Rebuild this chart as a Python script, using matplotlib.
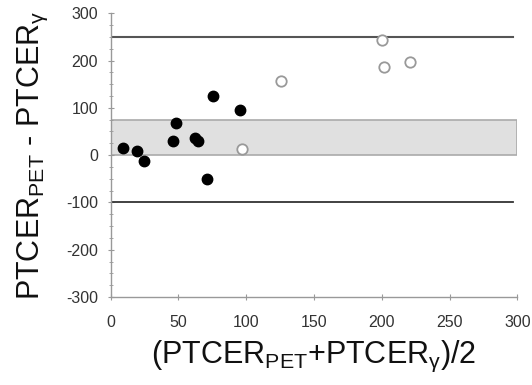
import numpy as np
import matplotlib.pyplot as plt
from matplotlib.ticker import MultipleLocator
from matplotlib.patches import Rectangle

# Bland-Altman style data
mean_filled = [9.0, 19.3, 24.3, 45.9, 48.4, 62.4, 64.7, 71.4, 75.7, 95.5]
diff_filled = [16, 8, -13, 30, 68, 36, 29, -50, 126, 96]
mean_open = [96.5, 126, 200.5, 201.8, 220.8]
diff_open = [13, 156, 244, 187, 196]

band_low, band_high = 0, 75
limit_upper, limit_lower = 250, -100

plt.rcParams['font.family'] = ['Liberation Sans', 'DejaVu Sans']
plt.rcParams['mathtext.fontset'] = 'custom'
plt.rcParams['mathtext.rm'] = 'Liberation Sans'
plt.rcParams['mathtext.it'] = 'Liberation Sans'
plt.rcParams['axes.unicode_minus'] = False

fig = plt.figure(figsize=(5.32, 3.85), dpi=100)
ax = fig.add_axes([0.2081, 0.2286, 0.7643, 0.7369])

ax.add_patch(Rectangle((0, band_low), 300, band_high - band_low,
                       facecolor='#e0e0e0', edgecolor='#aaaaaa', lw=1.2, zorder=1))
ax.plot([0, 297], [limit_upper, limit_upper], color='#555555', lw=1.5, zorder=2)
ax.plot([0, 297], [limit_lower, limit_lower], color='#333333', lw=1.3, zorder=2)

ax.plot(mean_filled, diff_filled, 'o', color='black', ms=7.5, zorder=3)
ax.plot(mean_open, diff_open, 'o', mfc='white', mec='#999999', mew=1.3, ms=7.5, zorder=3)

ax.set_xlim(0, 300)
ax.set_ylim(-300, 300)
ax.xaxis.set_major_locator(MultipleLocator(50))
ax.yaxis.set_major_locator(MultipleLocator(100))
ax.yaxis.set_minor_locator(MultipleLocator(25))

for s in ('top', 'right'):
    ax.spines[s].set_visible(False)
for s in ('left', 'bottom'):
    ax.spines[s].set_color('#999999')
    ax.spines[s].set_linewidth(1.0)
ax.tick_params(which='major', direction='inout', length=4, color='#999999',
               labelsize=11.5, labelcolor='#333333')
ax.tick_params(axis='y', which='major', pad=7)
ax.tick_params(axis='x', which='major', pad=11)
ax.tick_params(which='minor', direction='inout', length=3, color='#999999')

ax.set_xlabel(r'(PTCER$_{\mathregular{PET}}$+PTCER$_{\mathregular{γ}}$)/2',
              fontsize=22, color='#111111', labelpad=6)
ax.set_ylabel(r'PTCER$_{\mathregular{PET}}$ - PTCER$_{\mathregular{γ}}$',
              fontsize=22, color='#111111', labelpad=12)

fig.savefig('out.png', dpi=100)
